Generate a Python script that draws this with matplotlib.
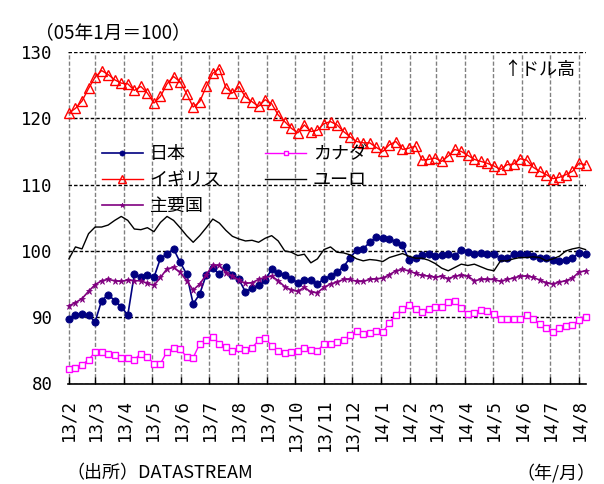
import pandas as pd
import matplotlib
matplotlib.use("Agg")
import matplotlib.pyplot as plt

plt.rcParams['font.family'] = ['Noto Sans CJK JP', 'DejaVu Sans']

# Weekly observations, Feb 2013 - Aug 2014 (Jan 2005 = 100)
dates = pd.date_range("2013-02-01", periods=80, freq="7D")

japan = [89.8, 90.4, 90.5, 90.3, 89.3, 92.5, 93.4, 92.5, 91.6, 90.3,
         96.5, 96.0, 96.3, 96.0, 98.9, 99.5, 100.3, 98.3, 96.5, 92.0,
         93.5, 96.4, 97.4, 96.5, 97.5, 96.4, 95.7, 93.8, 94.4, 94.8,
         95.6, 97.2, 96.6, 96.4, 95.8, 95.2, 95.6, 95.6, 95.0, 95.8,
         96.2, 96.8, 97.6, 99.0, 100.1, 100.3, 101.3, 102.1, 101.9, 101.8,
         101.4, 100.9, 98.6, 99.0, 99.4, 99.5, 99.2, 99.4, 99.6, 99.2,
         100.2, 99.8, 99.5, 99.7, 99.6, 99.5, 98.9, 98.9, 99.5, 99.5,
         99.6, 99.3, 99.0, 98.9, 98.7, 98.5, 98.7, 98.9, 99.7, 99.5]

uk = [120.8, 121.5, 122.6, 124.5, 126.2, 127.2, 126.6, 125.8, 125.3, 125.2,
      124.2, 124.8, 123.8, 122.3, 123.3, 125.2, 126.3, 125.5, 123.7, 121.7,
      122.5, 124.8, 126.8, 127.5, 124.6, 123.8, 124.8, 123.2, 122.5, 121.8,
      122.8, 122.2, 120.5, 119.5, 118.5, 117.8, 119.0, 118.0, 118.2, 119.2,
      119.5, 119.0, 118.0, 117.2, 116.5, 116.3, 116.3, 115.6, 115.0, 116.0,
      116.5, 115.3, 115.5, 115.8, 113.7, 113.8, 114.0, 113.5, 114.3, 115.3,
      115.0, 114.4, 113.8, 113.5, 113.2, 112.8, 112.3, 113.0, 113.1, 113.9,
      113.7, 112.6, 112.0, 111.5, 110.9, 111.1, 111.5, 112.0, 113.2, 113.0]

majors = [91.7, 92.2, 92.8, 93.9, 94.9, 95.5, 95.7, 95.5, 95.4, 95.6,
          95.5, 95.5, 95.1, 94.8, 96.0, 97.3, 97.5, 96.8, 95.5, 94.1,
          95.0, 96.4, 97.8, 97.8, 96.7, 96.2, 95.6, 95.1, 95.2, 95.7,
          96.0, 96.2, 95.5, 94.6, 94.1, 93.9, 94.5, 93.8, 93.7, 94.5,
          95.0, 95.3, 95.7, 95.7, 95.4, 95.4, 95.7, 95.8, 95.9, 96.4,
          97.0, 97.2, 97.0, 96.6, 96.3, 96.2, 96.0, 96.2, 95.8, 96.2,
          96.3, 96.2, 95.5, 95.7, 95.7, 95.7, 95.4, 95.7, 95.9, 96.2,
          96.2, 96.0, 95.6, 95.2, 95.0, 95.3, 95.5, 95.9, 96.8, 97.0]

canada = [82.2, 82.3, 82.8, 83.6, 84.7, 84.8, 84.5, 84.3, 83.9, 83.8,
          83.6, 84.5, 84.0, 83.0, 83.0, 84.8, 85.3, 85.2, 84.0, 83.9,
          86.0, 86.6, 87.0, 86.0, 85.5, 84.9, 85.3, 85.1, 85.4, 86.5,
          86.8, 85.7, 84.9, 84.6, 84.8, 84.9, 85.4, 85.0, 84.9, 86.0,
          86.0, 86.3, 86.5, 87.3, 87.9, 87.4, 87.6, 87.9, 87.7, 89.2,
          90.3, 91.3, 91.8, 91.3, 90.8, 91.2, 91.6, 91.5, 92.3, 92.4,
          91.4, 90.5, 90.7, 91.1, 91.0, 90.5, 89.8, 89.8, 89.7, 89.8,
          90.3, 89.7, 89.0, 88.4, 87.8, 88.3, 88.6, 88.8, 89.6, 90.1]

euro = [98.8, 100.6, 100.3, 102.6, 103.6, 103.6, 103.9, 104.6, 105.2, 104.6,
        103.3, 103.2, 103.5, 102.9, 104.3, 105.2, 104.6, 103.5, 102.3, 101.3,
        102.3, 103.5, 104.8, 104.2, 103.1, 102.2, 101.8, 101.5, 101.6, 101.3,
        101.9, 102.3, 101.5, 100.0, 99.8, 99.3, 99.5, 98.2, 98.8, 100.2,
        100.6, 99.8, 99.7, 99.4, 98.8, 98.5, 98.7, 98.6, 98.4, 99.0,
        99.3, 99.6, 99.2, 98.9, 98.9, 98.6, 98.1, 97.4, 97.0, 97.5,
        98.0, 97.8, 98.0, 97.6, 97.2, 97.0, 98.5, 98.5, 98.8, 99.0,
        99.0, 99.1, 99.0, 98.5, 98.8, 99.2, 100.0, 100.3, 100.5, 100.2]

series_names = ["日本", "イギリス", "主要国", "カナダ", "ユーロ"]

month_ticks = pd.date_range("2013-02-01", "2014-08-01", freq="MS")
tick_labels = ["13/2", "13/3", "13/4", "13/5", "13/6", "13/7", "13/8", "13/9",
               "13/10", "13/11", "13/12", "14/1", "14/2", "14/3", "14/4",
               "14/5", "14/6", "14/7", "14/8"]
y_ticks = [80, 90, 100, 110, 120, 130]

W, H = 604, 484
fig = plt.figure(figsize=(W / 100, H / 100), dpi=100)
ax = fig.add_axes([68 / W, 1 - 383.5 / H, (586 - 68) / W, (383.5 - 52) / H])

l_ca, = ax.plot(dates, canada, color="#FF00FF", lw=1.0, marker="s", ms=4.6,
                mfc="white", mec="#FF00FF", mew=1.0, zorder=3, clip_on=False)
l_uk, = ax.plot(dates, uk, color="#FF0000", lw=1.0, marker="^", ms=7.5,
                mfc="none", mec="#FF0000", mew=1.0, zorder=3, clip_on=False)
l_jp, = ax.plot(dates, japan, color="#000080", lw=1.2, marker="o", ms=5.2,
                mfc="#000080", mec="#000080", mew=0.6, zorder=4, clip_on=False)
l_mj, = ax.plot(dates, majors, color="#800080", lw=1.2, marker="*", ms=5,
                mfc="#800080", mec="#800080", mew=0.5, zorder=5, clip_on=False)
l_eu, = ax.plot(dates, euro, color="black", lw=1.0, zorder=6, clip_on=False)

ax.set_xlim(pd.Timestamp("2013-01-31"), pd.Timestamp("2014-08-08 12:00"))
ax.set_ylim(80, 130)
ax.set_yticks(y_ticks)
ax.set_yticklabels([str(v) for v in y_ticks], family="DejaVu Sans Mono", fontsize=12.5)
ax.set_xticks(month_ticks)
ax.set_xticklabels(tick_labels, rotation=90, family="DejaVu Sans Mono",
                   fontsize=12.5, va="top", ha="center")

ax.tick_params(axis="y", length=0, pad=11)
ax.tick_params(axis="x", direction="in", length=5, width=1, pad=11, color="black")

for s in ("left", "top", "right"):
    ax.spines[s].set_visible(False)
ax.spines["bottom"].set_linewidth(1.2)

ax.set_axisbelow(True)
ax.grid(axis="x", color="#808080", lw=1.0, linestyle=(0, (3, 1.5)))
ax.grid(axis="y", color="black", lw=1.0, linestyle=(0, (2.5, 1.5)))

leg = ax.legend([l_jp, l_uk, l_mj, l_ca, l_eu], series_names, ncol=2,
                frameon=False, loc="upper left",
                bbox_to_anchor=(101.7 / W, 1 - 145 / H),
                bbox_transform=fig.transFigure, borderpad=0, borderaxespad=0,
                handlelength=2.3, handletextpad=0.35, columnspacing=2.4,
                labelspacing=0.45, markerscale=0.7, fontsize=13)

fig.text(35 / W, 1 - 33 / H, "（05年1月＝100）", fontsize=13.5, ha="left", va="center")
fig.text(575 / W, 1 - 70 / H, "↑ドル高", fontsize=13, ha="right", va="center")
fig.text(66 / W, 1 - 473 / H, "（出所）DATASTREAM", fontsize=13, ha="left", va="center")
fig.text(596 / W, 1 - 473 / H, "（年/月）", fontsize=13, ha="right", va="center")

fig.savefig("out.png", dpi=100)
